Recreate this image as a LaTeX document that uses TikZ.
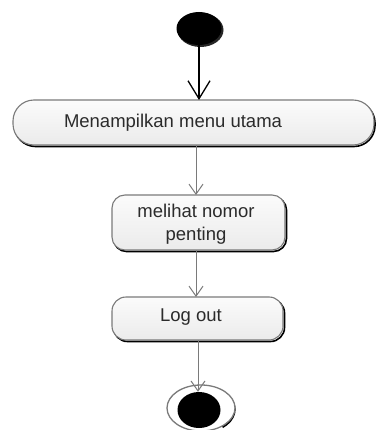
\documentclass[tikz,border=0pt]{standalone}
\usepackage{fontspec}
\setmainfont{Liberation Sans}
\usetikzlibrary{arrows.meta,shapes.geometric}
\definecolor{edgegray}{HTML}{7A7A7A}
\definecolor{txtgray}{HTML}{2B2B2B}
\definecolor{boxtop}{HTML}{FBFBFB}
\definecolor{boxbot}{HTML}{EBEBEB}
\tikzset{
  x=1pt, y=-1pt,
  activity/.style={draw=edgegray, line width=1.1pt, top color=boxtop, bottom color=boxbot,
    inner sep=0pt, outer sep=0pt},
  actshadow/.style={draw=black, line width=1.6pt},
  label/.style={font=\fontsize{18.5}{23}\selectfont, text=txtgray, align=center, inner sep=0pt},
  flow/.style={draw=edgegray, line width=1pt, -{Straight Barb[length=10pt, width=14pt, line width=1pt]}},
  startflow/.style={draw=black, line width=1.3pt, -{Straight Barb[length=18pt, width=22pt, line width=1.3pt]}},
}
\begin{document}
\begin{tikzpicture}
\useasboundingbox (0,0) rectangle (376,430);
\fill[white] (0,0) rectangle (376,430);

% initial node
\fill[black!85] (200.5,30) ellipse [x radius=23, y radius=17];
\node[ellipse, fill=black, minimum width=45pt, minimum height=33pt, inner sep=0pt] (start) at (199,28.5) {};

% activity boxes with a dark drop shadow along the lower right
\draw[actshadow, rounded corners=21pt] (14.5,102) rectangle (375,146.5);
\node[activity, minimum width=361pt, minimum height=45pt, rounded corners=21pt] (b1) at (193.5,122.5) {};
\node[label] (t1) at (173,123) {Menampilkan menu utama};

\draw[actshadow, rounded corners=13pt] (113.5,197) rectangle (286.5,251.5);
\node[activity, minimum width=173pt, minimum height=55pt, rounded corners=13pt] (b2) at (198.5,222.5) {};
\node[label] (t2) at (196,224) {melihat nomor\\penting};

\draw[actshadow, rounded corners=14pt] (113.5,299) rectangle (284.5,341.5);
\node[activity, minimum width=171pt, minimum height=43pt, rounded corners=14pt] (b3) at (197.5,318.5) {};
\node[label] (t3) at (191,317.5) {Log out};

% final node
\draw[black, line width=2.2pt] (230,398) arc [start angle=-30, end angle=50, x radius=34, y radius=23];
\node[ellipse, draw=edgegray, line width=1.3pt, fill=white, minimum width=68pt, minimum height=46pt, inner sep=0pt] (endring) at (201,408) {};
\node[ellipse, fill=black, minimum width=43pt, minimum height=36pt, inner sep=0pt] (end) at (199,410) {};

% control flow
\draw[startflow] (start.south) -- (b1.north -| start.south);
\draw[flow] (b1.south -| 196,0) -- (b2.north -| 196,0);
\draw[flow] (b2.south -| 196,0) -- (b3.north -| 196,0);
\draw[flow] (b3.south -| 198,0) -- (end.north -| 198,0);
\end{tikzpicture}
\end{document}
